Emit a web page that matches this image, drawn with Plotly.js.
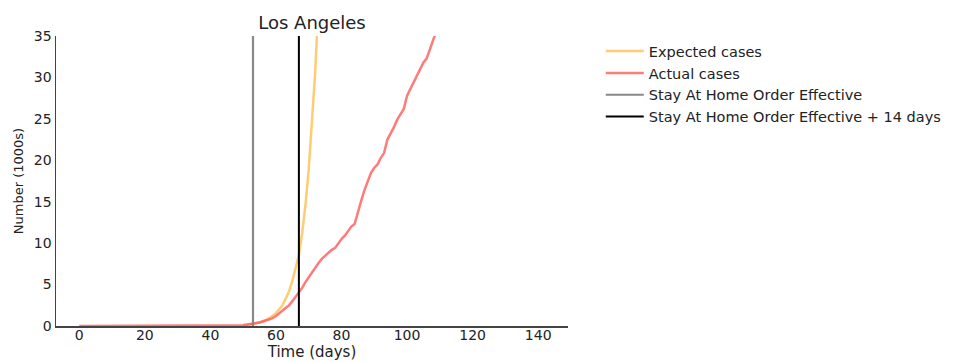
<!DOCTYPE html>
<html><head><meta charset="utf-8">
<script src="https://cdn.plot.ly/plotly-3.0.1.min.js"></script>
<style>body{margin:0;background:#fff}#chart{width:959px;height:362px}</style>
</head><body><div id="chart"></div>
<script>
const title = "Los Angeles";
const xTitle = "Time (days)";
const yTitle = "Number (1000s)";
const seriesNames = ["Expected cases", "Actual cases", "Stay At Home Order Effective", "Stay At Home Order Effective + 14 days"];
const stayAtHomeDay = 53;
const stayAtHomePlus14Day = 67;
const expectedDays = [50,51,52,53,54,55,56,57,58,59,60,61,62,63,64,65,66,67,68,69,70,71,72,73,74];
const expectedCases = [0.13,0.17,0.21,0.27,0.35,0.45,0.58,0.74,0.95,1.2,1.55,2.0,2.55,3.3,4.2,5.4,6.9,8.6,11.2,14.6,18.9,24.3,30.8,39.5,50.6];
const actualDays = [0,5,10,15,20,25,30,35,40,41,42,43,44,45,46,47,48,49,50,51,52,53,54,55,56,57,58,59,60,61,62,63,64,65,66,67,68,69,70,71,72,73,74,75,76,77,78,79,80,81,82,83,84,85,86,87,88,89,90,91,92,93,94,95,96,97,98,99,100,101,102,103,104,105,106,107,108,109,110];
const actualCases = [0,0,0,0,0,0,0,0.002,0.01,0.01,0.01,0.01,0.014,0.02,0.03,0.04,0.05,0.07,0.09,0.14,0.19,0.23,0.29,0.41,0.54,0.66,0.8,0.95,1.2,1.5,1.85,2.2,2.5,3.0,3.5,4.0,4.6,5.3,5.9,6.4,7.0,7.6,8.1,8.5,8.9,9.2,9.4,10.0,10.5,10.9,11.4,12.0,12.3,13.8,15.1,16.4,17.5,18.5,19.1,19.5,20.3,20.9,22.5,23.2,24.0,24.9,25.6,26.2,27.8,28.6,29.4,30.3,31.2,31.8,32.3,33.5,34.7,35.8,36.8];
const yMin = 0, yMax = 35;
const xRange = [-7.1, 149.1];

const font = "DejaVu Sans, sans-serif";
const traces = [
  {x: expectedDays, y: expectedCases, name: seriesNames[0], mode: "lines", line: {color: "rgba(255,190,80,0.8)", width: 2.5}},
  {x: actualDays, y: actualCases, name: seriesNames[1], mode: "lines", line: {color: "rgba(255,90,90,0.8)", width: 2.5}},
  {x: [stayAtHomeDay, stayAtHomeDay], y: [yMin, yMax], name: seriesNames[2], mode: "lines", line: {color: "#888888", width: 2.2}},
  {x: [stayAtHomePlus14Day, stayAtHomePlus14Day], y: [yMin, yMax], name: seriesNames[3], mode: "lines", line: {color: "#000000", width: 2}}
];
const layout = {
  width: 959, height: 362,
  margin: {l: 56, r: 391, t: 36, b: 36, autoexpand: false},
  paper_bgcolor: "#fff", plot_bgcolor: "#fff",
  font: {family: font, size: 14, color: "#222"},
  title: {text: title, x: 0.5, xref: "paper", y: 0.937, yref: "container", yanchor: "middle", font: {family: font, size: 18, color: "#222"}},
  showlegend: true,
  legend: {x: 1.064, xanchor: "left", y: 1.003, yanchor: "top", font: {family: font, size: 14.5, color: "#222"}, tracegroupgap: 0, itemwidth: 38, bgcolor: "rgba(0,0,0,0)"},
  xaxis: {range: xRange, tickvals: [0,20,40,60,80,100,120,140], showgrid: false, zeroline: false, showline: true, linecolor: "#444", linewidth: 1.5, ticks: "", ticklen: 0, ticklabelstandoff: -4,
          title: {text: xTitle, standoff: 2, font: {family: font, size: 15, color: "#222"}}, tickfont: {size: 14}},
  yaxis: {range: [yMin, yMax], tickvals: [0,5,10,15,20,25,30,35], showgrid: false, zeroline: false, showline: true, linecolor: "#444", linewidth: 1.5, ticks: "", ticklen: 0,
          title: {text: yTitle, standoff: 7, font: {family: font, size: 13, color: "#222"}}, tickfont: {size: 14}}
};
Plotly.newPlot("chart", traces, layout, {displayModeBar: false, staticPlot: true});
</script></body></html>
